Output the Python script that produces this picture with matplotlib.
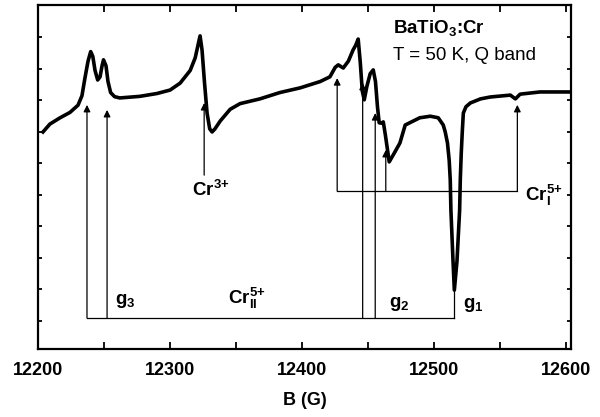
import matplotlib
matplotlib.use('Agg')
import matplotlib.pyplot as plt
from matplotlib.ticker import MultipleLocator

plt.rcParams['font.family'] = ['Liberation Sans', 'DejaVu Sans']
plt.rcParams['mathtext.fontset'] = 'custom'
plt.rcParams['mathtext.rm'] = 'Liberation Sans'
plt.rcParams['mathtext.bf'] = 'Liberation Sans:bold'
plt.rcParams['mathtext.it'] = 'Liberation Sans:italic'

# EPR spectrum: field B (G) and signal (arb. units)
field = [12203.8, 12209.0, 12216.7, 12224.2, 12230.3, 12233.3, 12235.5, 12237.9,
         12239.9, 12241.5, 12243.2, 12245.2, 12247.0, 12248.5, 12249.6, 12251.5,
         12253.0, 12255.0, 12258.0, 12262.0, 12277.0, 12290.0, 12300.0, 12307.6,
         12315.2, 12319.0, 12322.7, 12324.2, 12326.0, 12328.0, 12330.0, 12331.8,
         12334.0, 12338.0, 12345.5, 12353.0, 12368.0, 12383.0, 12398.5, 12413.6,
         12421.0, 12425.0, 12427.3, 12431.1, 12435.0, 12438.5, 12440.5, 12442.4,
         12444.0, 12445.5, 12447.0, 12449.0, 12451.5, 12453.8, 12455.5, 12457.0,
         12458.3, 12460.0, 12461.4, 12463.0, 12465.9, 12470.0, 12474.0, 12478.0,
         12489.0, 12497.0, 12503.0, 12506.8, 12508.3, 12510.0, 12511.3, 12512.1,
         12512.6, 12514.2, 12515.2, 12517.2, 12519.2, 12519.7, 12520.4, 12521.2,
         12522.0, 12524.0, 12527.3, 12535.0, 12542.4, 12550.0, 12557.6, 12561.4,
         12565.0, 12580.0, 12603.5]
signal = [6.00, 6.25, 6.45, 6.62, 6.85, 7.15, 7.70, 8.25,
          8.55, 8.40, 7.95, 7.65, 7.75, 8.10, 8.29, 8.10,
          7.60, 7.25, 7.12, 7.08, 7.13, 7.22, 7.33, 7.55,
          7.95, 8.35, 9.05, 8.60, 7.60, 6.60, 6.10, 6.00,
          6.10, 6.35, 6.72, 6.90, 7.05, 7.25, 7.40, 7.60,
          7.75, 8.05, 8.13, 8.03, 8.25, 8.60, 8.75, 8.95,
          8.20, 7.30, 7.02, 7.45, 7.85, 7.97, 7.60, 6.80,
          6.29, 6.28, 6.32, 5.90, 5.05, 5.35, 5.65, 6.22,
          6.45, 6.50, 6.45, 6.22, 6.00, 5.65, 5.10, 4.48,
          3.52, 1.90, 0.98, 1.90, 3.52, 4.48, 5.30, 6.00,
          6.60, 6.80, 6.92, 7.05, 7.11, 7.14, 7.17, 7.05,
          7.20, 7.27, 7.27]

# resonance positions (G) and arrow tip heights
cr2_pos = [12237.1, 12252.3, 12445.8, 12455.3]
cr2_tip = [6.86, 6.70, 7.56, 6.60]
cr2_g1 = 12515.2
cr2_g1_tip = 0.98
cr2_level = 0.095

cr1_pos = [12426.5, 12463.3, 12562.9]
cr1_tip = [7.71, 5.43, 6.86]
cr1_level = 4.13

cr3_pos = 12325.8
cr3_base, cr3_tip = 4.63, 6.92

fig = plt.figure(figsize=(6.0, 4.17), dpi=100)
ax = fig.add_axes([0.0633, 0.163, 0.889, 0.825])

ax.plot(field, signal, color='black', lw=2.6, solid_joinstyle='round')

arrow = dict(arrowstyle='-|>', lw=0.9, color='black', mutation_scale=10,
             shrinkA=0, shrinkB=0)

# Cr_II bracket
ax.plot([cr2_pos[0], cr2_g1], [cr2_level, cr2_level], color='black', lw=0.9)
for b, t in zip(cr2_pos, cr2_tip):
    ax.annotate('', xy=(b, t), xytext=(b, cr2_level), arrowprops=arrow)
ax.plot([cr2_g1, cr2_g1], [cr2_level, cr2_g1_tip], color='black', lw=0.9)

# Cr_I bracket
ax.plot([cr1_pos[0], cr1_pos[-1]], [cr1_level, cr1_level], color='black', lw=0.9)
for b, t in zip(cr1_pos, cr1_tip):
    ax.annotate('', xy=(b, t), xytext=(b, cr1_level), arrowprops=arrow)

# Cr3+
ax.annotate('', xy=(cr3_pos, cr3_tip), xytext=(cr3_pos, cr3_base), arrowprops=arrow)

fs = 13.5
ax.text(12469, 9.30, r'BaTiO$_{\mathbf{3}}$:Cr', fontsize=fs, fontweight='bold', va='center')
ax.text(12469, 8.44, 'T = 50 K, Q band', fontsize=fs, va='center')
ax.text(12316.5, 4.16, r'Cr$^{\mathbf{3{+}}}$', fontsize=fs, fontweight='bold', va='center')
ax.text(12568.5, 4.00, r'Cr$_{\mathbf{I}}^{\mathbf{5{+}}}$', fontsize=fs, fontweight='bold', va='center')
ax.text(12344.0, 0.72, r'Cr$_{\mathbf{II}}^{\mathbf{5{+}}}$', fontsize=fs, fontweight='bold', va='center')
ax.text(12258.3, 0.62, r'g$_{\mathbf{3}}$', fontsize=fs, fontweight='bold', va='center')
ax.text(12466.0, 0.55, r'g$_{\mathbf{2}}$', fontsize=fs, fontweight='bold', va='center')
ax.text(12521.5, 0.50, r'g$_{\mathbf{1}}$', fontsize=fs, fontweight='bold', va='center')

ax.set_xlim(12200, 12603.8)
ax.set_ylim(-0.89, 10.03)
ax.xaxis.set_major_locator(MultipleLocator(100))
ax.xaxis.set_minor_locator(MultipleLocator(50))
ax.set_yticks(range(0, 10))
ax.set_yticklabels([])
ax.tick_params(axis='both', which='both', direction='in', top=True, right=True,
               width=1.3)
ax.tick_params(axis='x', which='both', length=5)
ax.tick_params(axis='y', which='both', length=3)
for lab in ax.get_xticklabels():
    lab.set_fontweight('bold')
    lab.set_fontsize(13)
ax.tick_params(axis='x', pad=9)
for sp in ax.spines.values():
    sp.set_linewidth(1.6)
ax.set_xlabel('B (G)', fontsize=13, fontweight='bold', labelpad=10)

fig.savefig('out.png', dpi=100)
